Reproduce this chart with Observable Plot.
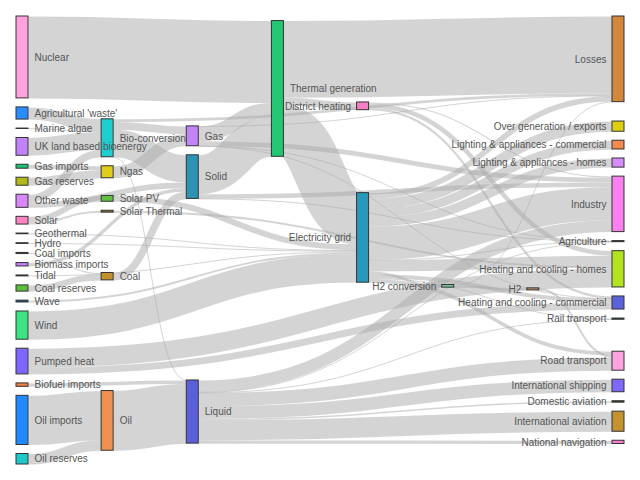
<!DOCTYPE html>
<html>
<head>
<meta charset="utf-8">
<script src="https://cdn.jsdelivr.net/npm/d3@7"></script>
<script src="https://cdn.jsdelivr.net/npm/@observablehq/plot@0.6"></script>
<style>
  html, body { margin: 0; padding: 0; background: #fff; }
</style>
</head>
<body>
<div id="chart"></div>
<script>
// ---- Data ----
const nodeNames = [
  "Agricultural 'waste'", "Bio-conversion", "Liquid", "Losses", "Solid", "Gas",
  "Biofuel imports", "Biomass imports", "Coal imports", "Coal", "Coal reserves",
  "District heating", "Industry", "Heating and cooling - commercial",
  "Heating and cooling - homes", "Electricity grid", "Over generation / exports",
  "H2 conversion", "Road transport", "Agriculture", "Rail transport",
  "Lighting & appliances - commercial", "Lighting & appliances - homes",
  "Gas imports", "Ngas", "Gas reserves", "Thermal generation", "Geothermal",
  "H2", "Hydro", "International shipping", "Domestic aviation",
  "International aviation", "National navigation", "Marine algae", "Nuclear",
  "Oil imports", "Oil", "Oil reserves", "Other waste", "Pumped heat",
  "Solar PV", "Solar Thermal", "Solar", "Tidal", "UK land based bioenergy",
  "Wave", "Wind"
];
const nodeColors = [
  "#2b8cff", "#1dcfd0", "#5c60d8", "#d2873d", "#2c93b3", "#c384f7",
  "#ef7d45", "#c080ff", "#333333", "#c3922e", "#5cbf3c",
  "#f57fc4", "#fa7ff0", "#5c62dc",
  "#b3e31e", "#2a98bb", "#ddd010",
  "#7cc49a", "#ffa3e0", "#222222", "#1c5050",
  "#f2894f", "#d68cfc",
  "#1fbf78", "#dfcd1b", "#b2b81a", "#23c773", "#333333",
  "#c59a6a", "#333333", "#7e68ff", "#2b4a1f",
  "#c2932e", "#ff7fd8", "#333333", "#ffa2dd",
  "#2288ff", "#f0904f", "#20c9c9", "#d888f8", "#7f66ff",
  "#5fc140", "#8b6a2a", "#ff85c2", "#333333", "#c083f8",
  "#1f4e7a", "#3de383"
];
const linkSource = [0,1,1,1,1,6,7,8,10,9,11,11,11,15,15,15,15,15,15,15,15,15,15,15,23,25,5,5,5,5,5,27,17,17,28,29,2,2,2,2,2,2,2,2,34,24,35,36,38,37,39,39,40,40,41,42,43,43,4,4,4,26,26,26,44,45,46,47];
const linkTarget = [1,2,3,4,5,2,4,9,9,4,12,13,14,16,14,17,12,18,19,13,3,20,21,22,24,24,13,3,26,19,12,15,28,3,18,15,12,30,18,31,32,19,33,20,1,5,26,37,37,2,4,1,14,13,15,14,42,41,19,26,12,15,3,11,15,1,15,15];
const linkValue = [124.729,0.597,26.862,280.322,81.144,35,35,11.606,63.965,75.571,10.639,22.505,46.184,104.453,113.726,27.14,342.165,37.797,4.412,40.858,56.691,7.863,90.008,93.494,40.719,82.233,0.129,1.401,151.891,2.096,48.58,7.013,20.897,6.242,20.897,6.995,121.066,128.69,135.835,14.458,206.267,3.64,33.218,4.413,4.375,122.952,839.978,504.287,107.703,611.99,56.587,77.81,193.026,70.672,59.901,19.263,19.263,59.901,0.882,400.12,46.477,525.531,787.129,79.329,9.452,182.01,19.013,289.366];

// ---- Sankey layout (port of d3-sankey) ----
function sankeyLayout(graph, opts) {
  const [[x0, y0], [x1, y1]] = opts.extent;
  const dx = opts.nodeWidth, dy = opts.nodePadding, iterations = 6;
  let py;
  const {nodes, links} = graph;
  const ascBreadth = (a, b) => a.y0 - b.y0;
  const ascSource = (a, b) => ascBreadth(a.source, b.source) || a.index - b.index;
  const ascTarget = (a, b) => ascBreadth(a.target, b.target) || a.index - b.index;

  nodes.forEach((n, i) => { n.index = i; n.sourceLinks = []; n.targetLinks = []; });
  links.forEach((l, i) => {
    l.index = i;
    l.source = nodes[l.source]; l.target = nodes[l.target];
    l.source.sourceLinks.push(l); l.target.targetLinks.push(l);
  });
  for (const n of nodes) n.value = Math.max(d3.sum(n.sourceLinks, d => d.value), d3.sum(n.targetLinks, d => d.value));
  {
    let current = new Set(nodes), next = new Set, x = 0;
    while (current.size) {
      for (const n of current) { n.depth = x; for (const {target} of n.sourceLinks) next.add(target); }
      if (++x > nodes.length) throw new Error("circular");
      current = next; next = new Set;
    }
  }
  const nCols = d3.max(nodes, d => d.depth) + 1;
  const kx = (x1 - x0 - dx) / (nCols - 1);
  const columns = Array.from({length: nCols}, () => []);
  for (const n of nodes) {
    const i = Math.max(0, Math.min(nCols - 1, n.sourceLinks.length ? n.depth : nCols - 1));
    n.layer = i; n.x0 = x0 + i * kx; n.x1 = n.x0 + dx;
    columns[i].push(n);
  }
  py = Math.min(dy, (y1 - y0) / (d3.max(columns, c => c.length) - 1));

  function reorderLinks(ns) {
    for (const {sourceLinks, targetLinks} of ns) { sourceLinks.sort(ascTarget); targetLinks.sort(ascSource); }
  }
  function reorderNodeLinks({sourceLinks, targetLinks}) {
    for (const {source: {sourceLinks: sl}} of targetLinks) sl.sort(ascTarget);
    for (const {target: {targetLinks: tl}} of sourceLinks) tl.sort(ascSource);
  }
  const ky = d3.min(columns, c => (y1 - y0 - (c.length - 1) * py) / d3.sum(c, d => d.value));
  for (const col of columns) {
    let y = y0;
    for (const n of col) {
      n.y0 = y; n.y1 = y + n.value * ky; y = n.y1 + py;
      for (const l of n.sourceLinks) l.width = l.value * ky;
    }
    y = (y1 - y + py) / (col.length + 1);
    col.forEach((n, i) => { n.y0 += y * (i + 1); n.y1 += y * (i + 1); });
    reorderLinks(col);
  }
  function targetTop(source, target) {
    let y = source.y0 - (source.sourceLinks.length - 1) * py / 2;
    for (const {target: node, width} of source.sourceLinks) { if (node === target) break; y += width + py; }
    for (const {source: node, width} of target.targetLinks) { if (node === source) break; y -= width; }
    return y;
  }
  function sourceTop(source, target) {
    let y = target.y0 - (target.targetLinks.length - 1) * py / 2;
    for (const {source: node, width} of target.targetLinks) { if (node === source) break; y += width + py; }
    for (const {target: node, width} of source.sourceLinks) { if (node === target) break; y -= width; }
    return y;
  }
  function collTopToBottom(ns, y, i, alpha) {
    for (; i < ns.length; ++i) { const n = ns[i]; const d = (y - n.y0) * alpha; if (d > 1e-6) n.y0 += d, n.y1 += d; y = n.y1 + py; }
  }
  function collBottomToTop(ns, y, i, alpha) {
    for (; i >= 0; --i) { const n = ns[i]; const d = (n.y1 - y) * alpha; if (d > 1e-6) n.y0 -= d, n.y1 -= d; y = n.y0 - py; }
  }
  function resolveCollisions(ns, alpha) {
    const i = ns.length >> 1, s = ns[i];
    collBottomToTop(ns, s.y0 - py, i - 1, alpha);
    collTopToBottom(ns, s.y1 + py, i + 1, alpha);
    collBottomToTop(ns, y1, ns.length - 1, alpha);
    collTopToBottom(ns, y0, 0, alpha);
  }
  function relaxLeftToRight(alpha, beta) {
    for (let i = 1; i < columns.length; ++i) {
      const col = columns[i];
      for (const target of col) {
        let y = 0, w = 0;
        for (const {source, value} of target.targetLinks) {
          const v = value * (target.layer - source.layer);
          y += targetTop(source, target) * v; w += v;
        }
        if (!(w > 0)) continue;
        const d = (y / w - target.y0) * alpha;
        target.y0 += d; target.y1 += d;
        reorderNodeLinks(target);
      }
      col.sort(ascBreadth);
      resolveCollisions(col, beta);
    }
  }
  function relaxRightToLeft(alpha, beta) {
    for (let i = columns.length - 2; i >= 0; --i) {
      const col = columns[i];
      for (const source of col) {
        let y = 0, w = 0;
        for (const {target, value} of source.sourceLinks) {
          const v = value * (target.layer - source.layer);
          y += sourceTop(source, target) * v; w += v;
        }
        if (!(w > 0)) continue;
        const d = (y / w - source.y0) * alpha;
        source.y0 += d; source.y1 += d;
        reorderNodeLinks(source);
      }
      col.sort(ascBreadth);
      resolveCollisions(col, beta);
    }
  }
  for (let i = 0; i < iterations; ++i) {
    const alpha = Math.pow(0.99, i);
    const beta = Math.max(1 - alpha, (i + 1) / iterations);
    relaxRightToLeft(alpha, beta);
    relaxLeftToRight(alpha, beta);
  }
  for (const n of nodes) {
    let a = n.y0, b = n.y0;
    for (const l of n.sourceLinks) { l.y0 = a + l.width / 2; a += l.width; }
    for (const l of n.targetLinks) { l.y1 = b + l.width / 2; b += l.width; }
  }
  return graph;
}

// Nodes listed as they first appear among the link sources, then among the link targets
const nodeIds = Array.from(new Set([...linkSource, ...linkTarget]));
const position = new Map(nodeIds.map((id, i) => [id, i]));

const W = 640, H = 480;
const graph = sankeyLayout({
  nodes: nodeIds.map(id => ({name: nodeNames[id], color: nodeColors[id]})),
  links: linkSource.map((s, i) => ({source: position.get(s), target: position.get(linkTarget[i]), value: linkValue[i]}))
}, {extent: [[16, 16], [W - 16, H - 16]], nodeWidth: 12, nodePadding: 9});

const leftNodes = graph.nodes.filter(d => d.x0 < W / 2);
const rightNodes = graph.nodes.filter(d => d.x0 >= W / 2);

const chart = Plot.plot({
  width: W,
  height: H,
  margin: 0,
  x: {domain: [0, W], range: [0, W], axis: null},
  y: {domain: [0, H], range: [0, H], axis: null},
  color: {type: "identity"},
  style: {fontFamily: "'Liberation Sans', Arial, sans-serif", fontSize: "10px", background: "#fff"},
  marks: [
    Plot.link(graph.links, {
      x1: d => d.source.x1, y1: d => d.y0,
      x2: d => d.target.x0, y2: d => d.y1,
      strokeWidth: d => Math.max(1, d.width),
      stroke: "#aaa", strokeOpacity: 0.5,
      curve: "bump-x"
    }),
    Plot.rect(graph.nodes, {
      x1: "x0", x2: "x1", y1: "y0", y2: "y1",
      fill: "color", stroke: "#333", strokeWidth: 1
    }),
    Plot.text(leftNodes, {
      x: d => d.x1 + 6, y: d => (d.y0 + d.y1) / 2, text: "name",
      textAnchor: "start", fill: "#555", fontSize: 10
    }),
    Plot.text(rightNodes, {
      x: d => d.x0 - 6, y: d => (d.y0 + d.y1) / 2, text: "name",
      textAnchor: "end", fill: "#555", fontSize: 10
    })
  ]
});
document.getElementById("chart").appendChild(chart);
</script>
</body>
</html>
